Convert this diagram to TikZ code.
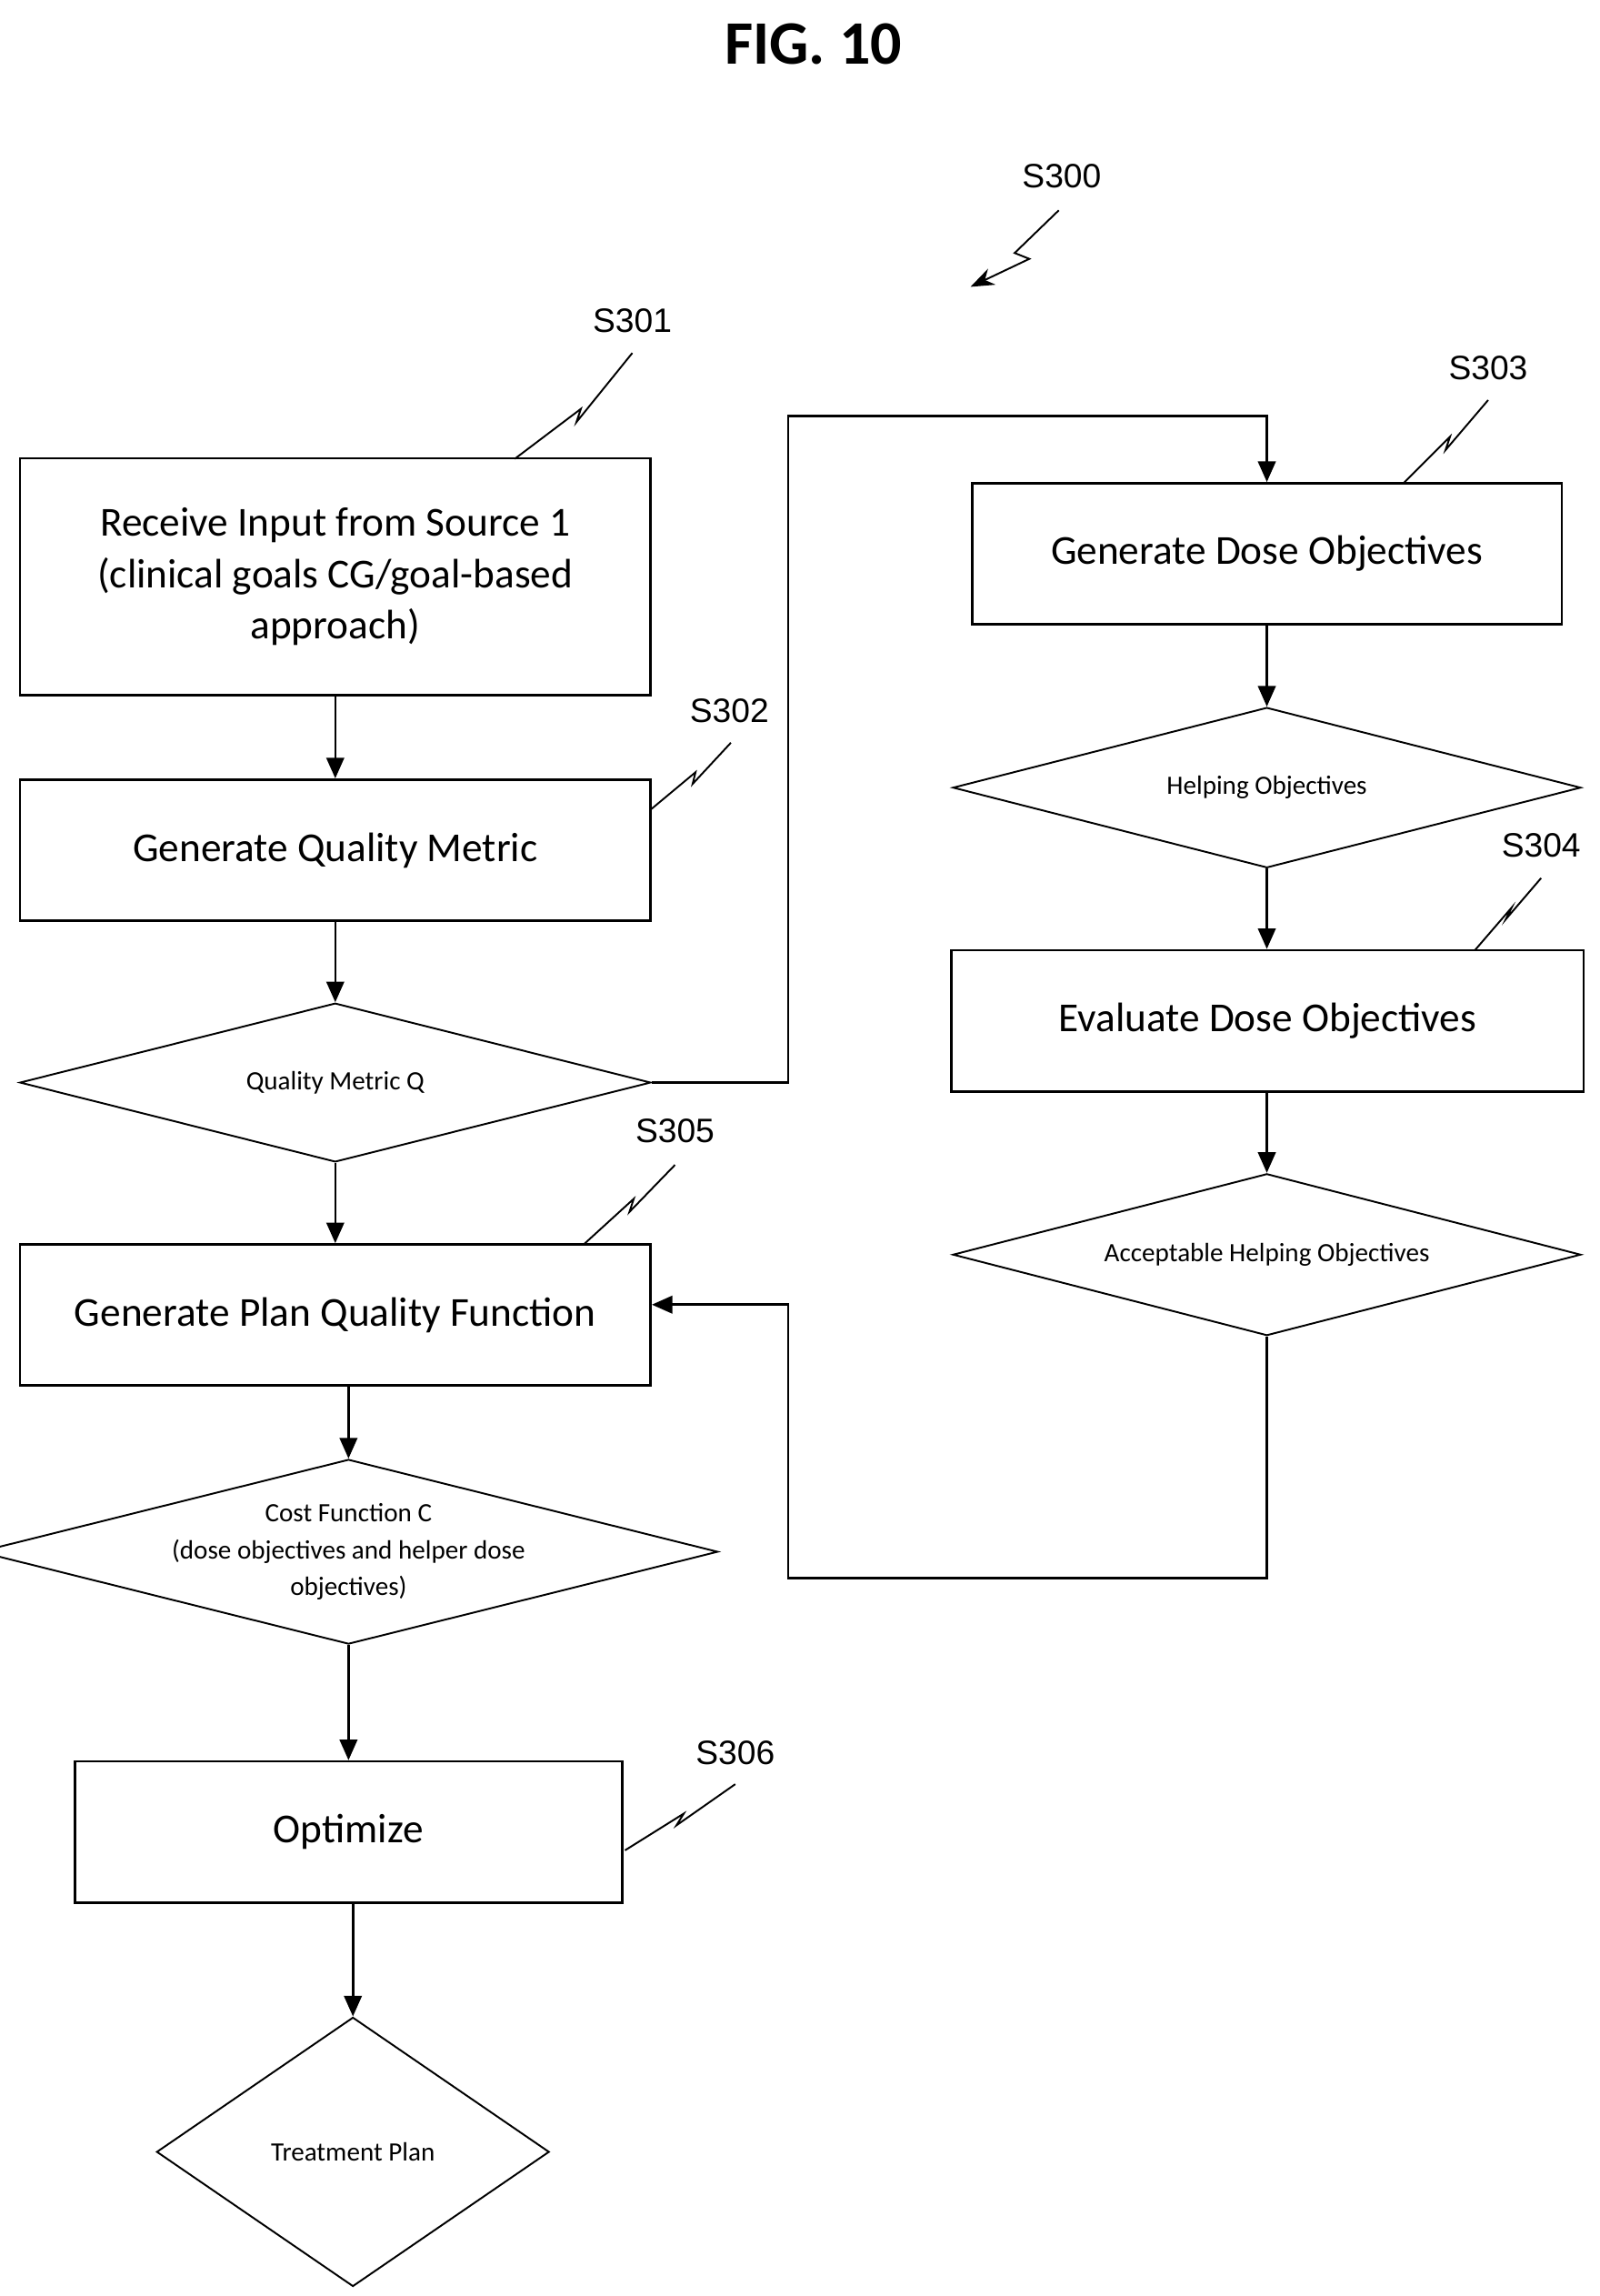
\documentclass[tikz,border=0pt]{standalone}
\usepackage{fontspec}
\setmainfont{Carlito}
\newfontfamily\lab{Liberation Sans}
\usetikzlibrary{shapes.geometric,arrows.meta}
\begin{document}
\begin{tikzpicture}[x=0.5pt,y=-0.5pt,
  box/.style={draw,line width=0.8pt,minimum width=214.5pt,minimum height=48pt,inner sep=0,align=center,font=\fontsize{14}{17.5}\selectfont},
  dia/.style={draw,line width=0.6pt,diamond,inner sep=0,shape aspect=4,align=center,font=\fontsize{9}{12.5}\selectfont},
  arr/.style={line width=0.8pt,-{Triangle[length=7pt,width=6pt]}},
  lbl/.style={font=\lab\fontsize{11.5}{13}\selectfont},
  sq/.style={line width=0.6pt}]
\useasboundingbox (0,0) rectangle (1088,1561);
\node[font=\bfseries\fontsize{21}{24}\selectfont] (title) at (553,30) {FIG. 10};
% left column
\node[box,minimum height=80.5pt] (b1) at (228,392) {Receive Input from Source 1\\(clinical goals CG/goal-based\\approach)};
\node[box] (b2) at (228,578) {Generate Quality Metric};
\node[dia,minimum width=214.5pt,minimum height=54pt] (dq) at (228,736) {Quality Metric Q};
\node[box] (b5) at (228,894) {Generate Plan Quality Function};
\node[dia,minimum width=205.5pt,minimum height=56pt] (dc) at (237,1055) {Cost Function C\\(dose objectives and helper dose\\objectives)};
\node[box,minimum width=186pt] (b6) at (237,1245.5) {Optimize};
\node[dia,minimum width=133.5pt,minimum height=91.5pt] (dt) at (240,1463) {Treatment Plan};
% right column
\node[box,minimum width=200.5pt] (b3) at (861.5,376.5) {Generate Dose Objectives};
\node[dia,minimum width=213.5pt,minimum height=54.5pt] (dh) at (861.5,535.5) {Helping Objectives};
\node[box,minimum width=215pt] (b4) at (862,694) {Evaluate Dose Objectives};
\node[dia,minimum width=213.5pt,minimum height=55pt] (da) at (861.5,853) {Acceptable Helping Objectives};
% connectors
\draw[arr] (b1) -- (b2);
\draw[arr] (b2) -- (dq);
\draw[arr] (dq) -- (b5);
\draw[arr] (b5.south -| dc.north) -- (dc);
\draw[arr] (dc) -- (b6);
\draw[arr] (b6.south -| dt.north) -- (dt);
\coordinate (r1) at (536,736); \coordinate (r2) at (536,283);
\draw[arr] (dq.east) -- (r1) -- (r2) -- (r2 -| b3.north) -- (b3.north);
\draw[arr] (b3) -- (dh);
\draw[arr] (dh) -- (b4.north -| dh.south);
\draw[arr] (b4.south -| da.north) -- (da);
\coordinate (r3) at (536,1073); \coordinate (r4) at (536,887);
\draw[arr] (da.south) -- (da.south |- r3) -- (r3) -- (r4) -- (r4 -| b5.east);
% labels and squiggles
\node[lbl] (l300) at (722,120) {S300};
\coordinate (s300a) at (720,143); \coordinate (s300b) at (660,195);
\draw[sq,-{Stealth[length=8pt,width=6pt]}] (s300a) -- (690,172) -- (700,176) -- (s300b);
\node[lbl] (l301) at (430,218) {S301};
\coordinate (s301a) at (350,312); \coordinate (s301b) at (430,240);
\draw[sq] (s301a) -- (395,278) -- (392,287) -- (s301b);
\node[lbl] (l302) at (496,483) {S302};
\coordinate (s302a) at (443,550); \coordinate (s302b) at (497,505);
\draw[sq] (s302a) -- (473,525) -- (471,533) -- (s302b);
\node[lbl] (l305) at (459,769) {S305};
\coordinate (s305a) at (397,846); \coordinate (s305b) at (459,792);
\draw[sq] (s305a) -- (431,815) -- (428,824) -- (s305b);
\node[lbl] (l306) at (500,1192) {S306};
\coordinate (s306a) at (425,1258); \coordinate (s306b) at (500,1213);
\draw[sq] (s306a) -- (465,1233) -- (460,1241) -- (s306b);
\node[lbl] (l303) at (1012,250) {S303};
\coordinate (s303a) at (955,328); \coordinate (s303b) at (1012,272);
\draw[sq] (s303a) -- (986,297) -- (983,306) -- (s303b);
\node[lbl] (l304) at (1048,575) {S304};
\coordinate (s304a) at (1003,646); \coordinate (s304b) at (1048,597);
\draw[sq] (s304a) -- (1028,617) -- (1024,625) -- (s304b);
\end{tikzpicture}
\end{document}
